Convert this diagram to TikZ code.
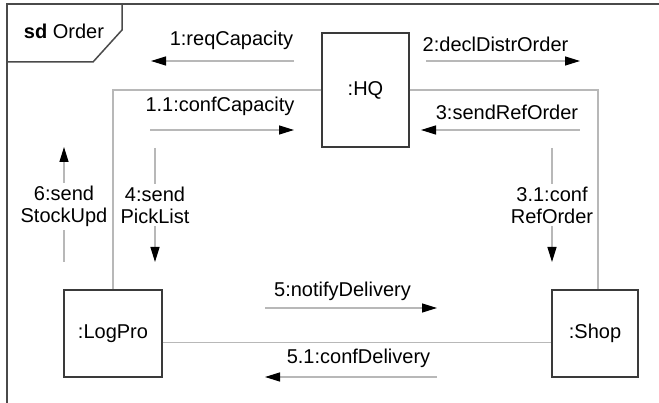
\documentclass[tikz,border=0pt]{standalone}
\usepackage{fontspec}
\setmainfont{Liberation Sans}
\usetikzlibrary{arrows.meta}

\definecolor{framegray}{HTML}{4A4A4A}
\definecolor{boxgray}{HTML}{3A3A3A}
\definecolor{linkgray}{HTML}{B8B8B8}

\tikzset{
  frameline/.style={draw=framegray, line width=1.5pt},
  lifebox/.style={draw=boxgray, line width=1.4pt, fill=white,
    inner sep=0pt, font=\fontsize{20}{22}\selectfont},
  link/.style={draw=linkgray, line width=1.3pt},
  msg/.style={draw=linkgray, line width=1.3pt,
    -{Triangle[length=15pt,width=9pt,color=black]}},
  msglabel/.style={font=\fontsize{20}{22}\selectfont, anchor=base, inner sep=0pt},
  vlabel/.style={font=\fontsize{20}{22}\selectfont, align=center,
    fill=white, inner sep=3pt}
}

\begin{document}
\begin{tikzpicture}[x=1pt, y=-1pt]
  \useasboundingbox (0,0) rectangle (659,403);

  % diagram frame and its name tab
  \draw[frameline] (7,403) -- (7,4) -- (659,4);
  \draw[frameline] (122,4) -- (122,30) -- (93,62) -- (7,62);
  \node[msglabel] (title) at (64,38.3) {\textbf{sd} Order};

  % lifelines
  \node[lifebox, minimum width=87pt, minimum height=114pt] (HQ) at (365.5,90) {:HQ};
  \node[lifebox, minimum width=98pt, minimum height=87pt] (LogPro) at (113,333.5) {:LogPro};
  \node[lifebox, minimum width=86pt, minimum height=87pt] (Shop) at (595,333.5) {:Shop};

  % links between the objects
  \draw[link] (HQ.west) -| (LogPro.north);
  \draw[link] (HQ.east) -| ([xshift=3pt]Shop.north);
  \draw[link] ([yshift=-9pt]LogPro.east) -- ([yshift=-9pt]Shop.west);

  % message anchors
  \coordinate (m1s) at (294,61);   \coordinate (m1e) at (151,61);
  \coordinate (m11s) at (150,130); \coordinate (m11e) at (294,130);
  \coordinate (m2s) at (426,61);   \coordinate (m2e) at (580,61);
  \coordinate (m3s) at (580,130);  \coordinate (m3e) at (421,130);
  \coordinate (m4s) at (155,148);  \coordinate (m4e) at (155,262);
  \coordinate (m6s) at (64,262);   \coordinate (m6e) at (64,147);
  \coordinate (m31s) at (552,148); \coordinate (m31e) at (552,262);
  \coordinate (m5s) at (265,308);  \coordinate (m5e) at (437,308);
  \coordinate (m51s) at (437,377); \coordinate (m51e) at (265,377);

  % messages
  \draw[msg] (m1s) -- (m1e);
  \draw[msg] (m11s) -- (m11e);
  \draw[msg] (m2s) -- (m2e);
  \draw[msg] (m3s) -- (m3e);
  \draw[msg] (m4s) -- (m4e);
  \draw[msg] (m6s) -- (m6e);
  \draw[msg] (m31s) -- (m31e);
  \draw[msg] (m5s) -- (m5e);
  \draw[msg] (m51s) -- (m51e);

  % message labels
  \node[msglabel] (l1) at (231.5,45.5) {1:reqCapacity};
  \node[msglabel] (l11) at (220,112) {1.1:confCapacity};
  \node[msglabel] (l2) at (495.5,51.7) {2:declDistrOrder};
  \node[msglabel] (l3) at (507,120) {3:sendRefOrder};
  \node[msglabel] (l5) at (342.5,296.5) {5:notifyDelivery};
  \node[msglabel] (l51) at (358.5,364) {5.1:confDelivery};
  \node[vlabel] (l4) at (155,205) {4:send\\PickList};
  \node[vlabel] (l6) at (64,206.5) {6:send\\StockUpd};
  \node[vlabel] (l31) at (552,205) {3.1:conf\\RefOrder};
\end{tikzpicture}
\end{document}
